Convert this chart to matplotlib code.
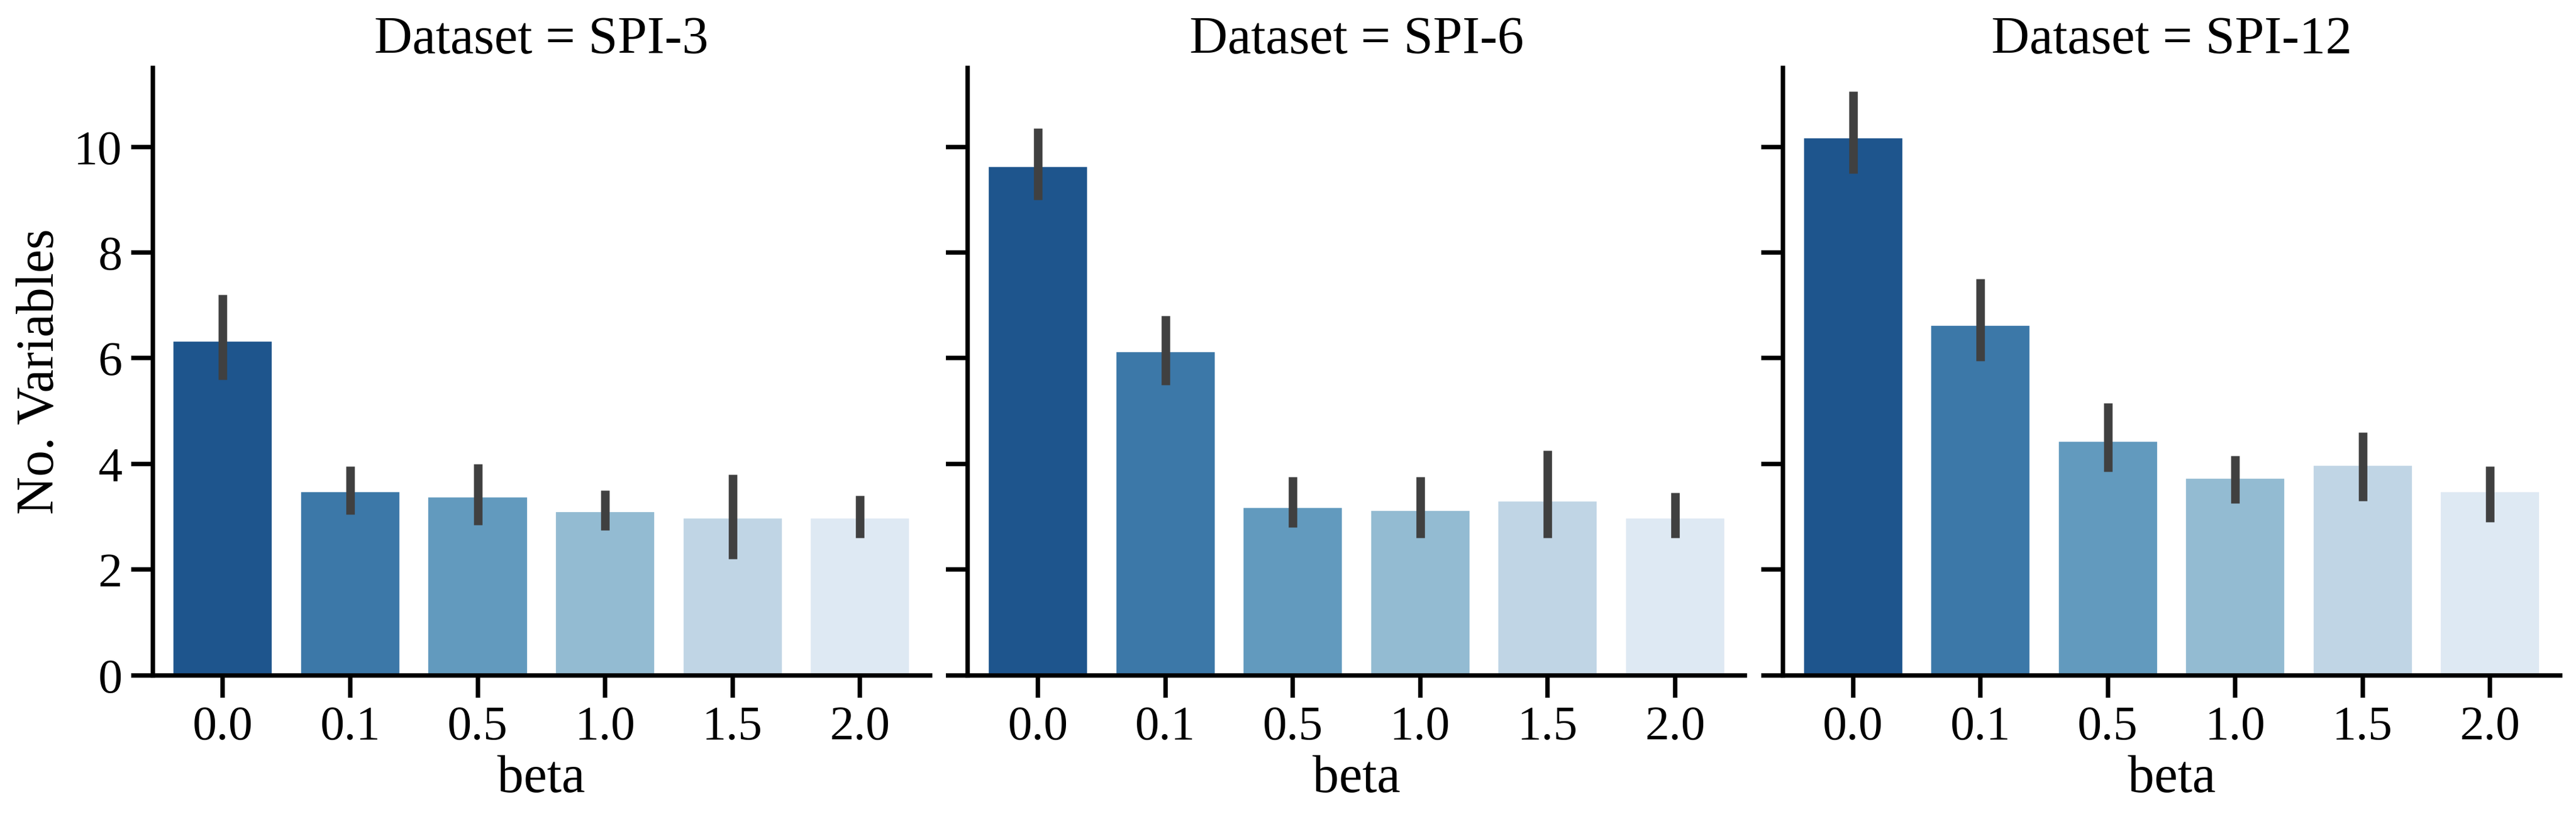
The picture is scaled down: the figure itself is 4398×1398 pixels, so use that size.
import matplotlib
matplotlib.use("Agg")
import matplotlib.pyplot as plt
import seaborn as sns
import numpy as np

datasets = ["SPI-3", "SPI-6", "SPI-12"]
betas = ["0.0", "0.1", "0.5", "1.0", "1.5", "2.0"]
means = {
    "SPI-3": [6.35, 3.5, 3.4, 3.12, 3.0, 3.0],
    "SPI-6": [9.65, 6.15, 3.2, 3.15, 3.32, 3.0],
    "SPI-12": [10.2, 6.65, 4.45, 3.75, 4.0, 3.5],
}
lows = {
    "SPI-3": [5.6, 3.05, 2.85, 2.75, 2.2, 2.6],
    "SPI-6": [9.0, 5.5, 2.8, 2.6, 2.6, 2.6],
    "SPI-12": [9.5, 5.95, 3.85, 3.25, 3.3, 2.9],
}
highs = {
    "SPI-3": [7.2, 3.95, 4.0, 3.5, 3.8, 3.4],
    "SPI-6": [10.35, 6.8, 3.75, 3.75, 4.25, 3.45],
    "SPI-12": [11.05, 7.5, 5.15, 4.15, 4.6, 3.95],
}

sns.set_theme(style="ticks", context="talk", font_scale=1.2,
              rc={"axes.edgecolor": "black", "xtick.color": "black", "ytick.color": "black",
                  "axes.linewidth": 1.8, "xtick.major.width": 1.8, "ytick.major.width": 1.8,
                  "text.color": "black", "axes.labelcolor": "black"})
plt.rcParams['font.family'] = ['Liberation Serif', 'DejaVu Serif']
colors = [sns.desaturate(c, 0.75) for c in sns.color_palette("Blues_r", 6)]

fig, axes = plt.subplots(1, 3, figsize=(14.66, 4.66), dpi=300, sharey=True)
x = np.arange(len(betas))
for ax, ds in zip(axes, datasets):
    m = np.array(means[ds])
    ax.bar(x, m, width=0.8, color=colors)
    for i in range(len(x)):
        ax.plot([x[i], x[i]], [lows[ds][i], highs[ds][i]], color="#404040", lw=3.5, solid_capstyle="butt")
    ax.set_xticks(x)
    ax.set_xticklabels(betas)
    ax.set_xlabel("beta", labelpad=2)
    ax.set_title(f"Dataset = {ds}")
    ax.set_xlim(-0.55, 5.55)
    sns.despine(ax=ax)
axes[0].set_ylabel("No. Variables")
axes[0].set_ylim(0, 11.5)
axes[0].set_yticks([0, 2, 4, 6, 8, 10])
fig.tight_layout(w_pad=0.3, pad=0.3)
fig.savefig("out.png", dpi=300)
